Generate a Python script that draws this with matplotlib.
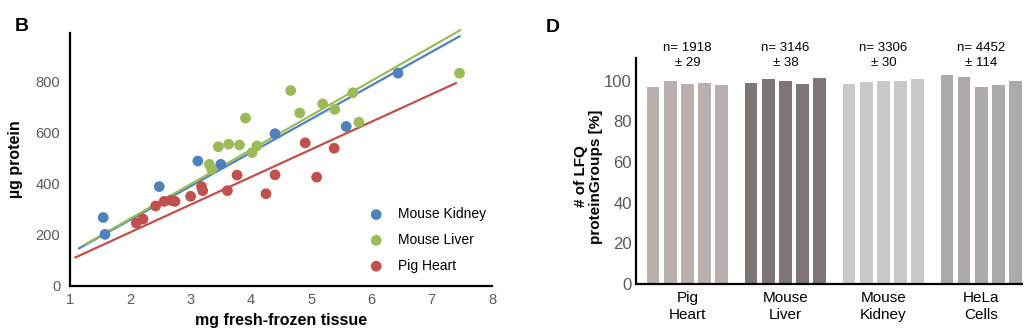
import matplotlib
matplotlib.use("Agg")
import matplotlib.pyplot as plt
import numpy as np

plt.rcParams["font.family"] = ["Liberation Sans", "DejaVu Sans"]

# panel B: protein yield vs tissue weight
kidney_x = [1.55, 1.58, 2.48, 3.12, 3.50, 4.40, 5.58, 6.44]
kidney_y = [268, 202, 389, 489, 476, 596, 624, 833]
liver_x = [3.31, 3.35, 3.46, 3.63, 3.81, 3.91, 4.02, 4.10, 4.66, 4.81, 5.19, 5.39, 5.69, 5.79, 7.46]
liver_y = [476, 456, 545, 555, 552, 657, 522, 548, 765, 677, 713, 691, 756, 641, 833]
heart_x = [2.10, 2.21, 2.42, 2.56, 2.67, 2.74, 3.00, 3.18, 3.20, 3.61, 3.77, 4.25, 4.40, 4.90, 5.09, 5.38]
heart_y = [246, 262, 313, 331, 335, 331, 351, 389, 373, 373, 434, 361, 435, 560, 426, 539]

# trend lines: slope, intercept, x start, x end
kidney_fit = [131.5, -4, 1.15, 7.46]
liver_fit = [134.8, -6, 1.26, 7.47]
heart_fit = [108.1, -6, 1.09, 7.40]

series_names = ["Mouse Kidney", "Mouse Liver", "Pig Heart"]
series_colors = ["#4f81bd", "#9bbb59", "#c0504d"]

# panel D: LFQ protein groups per replicate [%]
groups = ["Pig\nHeart", "Mouse\nLiver", "Mouse\nKidney", "HeLa\nCells"]
group_n = ["n= 1918\n± 29", "n= 3146\n± 38", "n= 3306\n± 30", "n= 4452\n± 114"]
pig_heart = [97.0, 100.0, 98.5, 99.0, 98.0]
mouse_liver = [99.0, 101.0, 100.0, 98.5, 101.5]
mouse_kidney = [98.5, 99.5, 100.0, 100.0, 101.0]
hela_cells = [103.0, 102.0, 97.0, 98.0, 100.0]
bar_colors = ["#b9b0ae", "#7f7574", "#c9c8c6", "#aeaaa9"]

tick_gray = "#595959"

fig = plt.figure(figsize=(10.36, 3.32), dpi=100)

# ---- panel B ----
ax1 = fig.add_axes([0.0676, 0.1386, 0.4074, 0.762])
scatter_sets = [(kidney_x, kidney_y, kidney_fit),
                (liver_x, liver_y, liver_fit),
                (heart_x, heart_y, heart_fit)]
for (xs, ys, fit), name, col in zip(scatter_sets, series_names, series_colors):
    ax1.scatter(xs, ys, s=60, color=col, edgecolors="none", label=name, zorder=3)
    lx = np.array([fit[2], fit[3]])
    ax1.plot(lx, fit[0] * lx + fit[1], color=col, lw=1.6, zorder=2, clip_on=False)

ax1.set_xlim(1, 8)
ax1.set_ylim(0, 990)
ax1.set_yticks([0, 200, 400, 600, 800])
ax1.set_xticks(range(1, 9))
for side in ["top", "right"]:
    ax1.spines[side].set_visible(False)
for side in ["left", "bottom"]:
    ax1.spines[side].set_linewidth(1.6)
ax1.tick_params(length=0, labelsize=10.5, labelcolor=tick_gray)
ax1.tick_params(axis="y", pad=7)
ax1.tick_params(axis="x", pad=5)
ax1.set_xlabel("mg fresh-frozen tissue", fontsize=11.5, fontweight="bold")
ax1.set_ylabel("µg protein", fontsize=11.5, fontweight="bold")
ax1.xaxis.set_label_coords(0.5, -0.105)
ax1.yaxis.set_label_coords(-0.112, 0.5)
ax1.legend(loc="lower right", bbox_to_anchor=(1.0, 0.03), frameon=False,
           fontsize=10, handletextpad=0.6, labelspacing=0.85, markerscale=1.0,
           borderaxespad=0)
fig.text(0.021, 0.92, "B", fontsize=14, fontweight="bold", va="center", ha="center")

# ---- panel D ----
ax2 = fig.add_axes([0.614, 0.1446, 0.3725, 0.68])
group_vals = [pig_heart, mouse_liver, mouse_kidney, hela_cells]
group_step = 5.7
centers = []
for g, (vals, col) in enumerate(zip(group_vals, bar_colors)):
    xs = np.arange(len(vals)) + g * group_step
    ax2.bar(xs, vals, width=0.74, color=col, zorder=2)
    centers.append(xs.mean())
    ax2.text(xs.mean(), 112.4, group_n[g], ha="center", va="center",
             fontsize=9.5, linespacing=1.35, clip_on=False)

ax2.set_xlim(-0.99, 3 * group_step + 4 + 0.37)
ax2.set_ylim(0, 111)
ax2.set_yticks([0, 20, 40, 60, 80, 100])
ax2.set_xticks(centers)
ax2.set_xticklabels(groups, fontsize=11, linespacing=1.25)
for side in ["top", "right"]:
    ax2.spines[side].set_visible(False)
for side in ["left", "bottom"]:
    ax2.spines[side].set_linewidth(1.6)
ax2.tick_params(length=0)
ax2.tick_params(axis="y", labelsize=12, labelcolor=tick_gray, pad=3)
ax2.tick_params(axis="x", pad=5)
ax2.set_ylabel("# of LFQ\nproteinGroups [%]", fontsize=11, fontweight="bold",
               linespacing=1.15)
ax2.yaxis.set_label_coords(-0.085, 0.476)
fig.text(0.534, 0.918, "D", fontsize=14, fontweight="bold", va="center", ha="center")

fig.savefig("out.png", dpi=100)
